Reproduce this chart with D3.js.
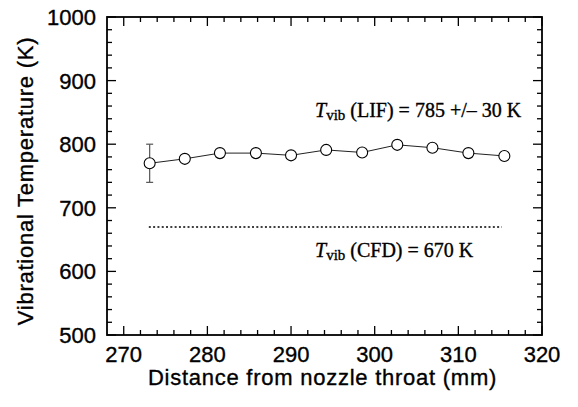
<!DOCTYPE html>
<html>
<head>
<meta charset="utf-8">
<script src="https://cdn.jsdelivr.net/npm/d3@7"></script>
<style>
  body { margin: 0; background: #fff; }
  svg text { fill: #000; stroke: #000; stroke-width: 0.35px; }
</style>
</head>
<body>
<div id="chart"></div>
<script>
// data
const distance = [273.1, 277.3, 281.5, 285.8, 290.0, 294.2, 298.5, 302.7, 306.9, 311.2, 315.5];
const tvib = [770, 777, 786, 786, 782.5, 791, 787, 799, 794.5, 786, 781.5];
const errIndex = 0;
const errSize = 30;
const cfdValue = 670;
const cfdRange = [273, 315.2];
const xTicks = [270, 280, 290, 300, 310, 320];
const yTicks = [500, 600, 700, 800, 900, 1000];

const W = 578, H = 407;
const pLeft = 107, pRight = 542, pTop = 17, pBottom = 335;

const svg = d3.select("#chart")
    .append("svg")
    .attr("width", W)
    .attr("height", H);

const x = d3.scaleLinear().domain([268, 320]).range([pLeft, pRight]);
const y = d3.scaleLinear().domain([500, 1000]).range([pBottom, pTop]);

const xMinor = d3.range(270, 320.1, 2);
const yMinor = d3.range(500, 1000.1, 20);

// ticks, inward on all four sides
function tickLen(v, step) { return Math.abs(v % step) < 1e-6 ? 9 : 5; }

const ticks = svg.append("g").attr("stroke", "#000").attr("stroke-width", 1.3);
xMinor.forEach(v => {
    let L = tickLen(v, 10);
    ticks.append("line").attr("x1", x(v)).attr("x2", x(v)).attr("y1", pBottom).attr("y2", pBottom - L);
    ticks.append("line").attr("x1", x(v)).attr("x2", x(v)).attr("y1", pTop).attr("y2", pTop + L);
});
yMinor.forEach(v => {
    let L = tickLen(v, 100);
    ticks.append("line").attr("y1", y(v)).attr("y2", y(v)).attr("x1", pLeft).attr("x2", pLeft + L);
    ticks.append("line").attr("y1", y(v)).attr("y2", y(v)).attr("x1", pRight).attr("x2", pRight - L);
});

// frame
svg.append("rect")
    .attr("x", pLeft).attr("y", pTop)
    .attr("width", pRight - pLeft).attr("height", pBottom - pTop)
    .attr("fill", "none").attr("stroke", "#000").attr("stroke-width", 1.8);

// tick labels
svg.append("g").selectAll("text")
    .data(xTicks)
    .enter().append("text")
    .attr("x", d => x(d))
    .attr("y", 362)
    .attr("text-anchor", "middle")
    .style("font", "22px 'Liberation Sans', Arial, sans-serif")
    .text(d => d);

svg.append("g").selectAll("text")
    .data(yTicks)
    .enter().append("text")
    .attr("x", 96)
    .attr("y", d => y(d))
    .attr("dy", "0.36em")
    .attr("text-anchor", "end")
    .style("font", "22px 'Liberation Sans', Arial, sans-serif")
    .text(d => d);

// axis titles
svg.append("text")
    .attr("x", (pLeft + pRight) / 2 - 2)
    .attr("y", 385)
    .attr("text-anchor", "middle")
    .style("font", "22px 'Liberation Sans', Arial, sans-serif")
    .style("letter-spacing", "0.75px")
    .text("Distance from nozzle throat (mm)");

svg.append("text")
    .attr("transform", "translate(33,181) rotate(-90)")
    .attr("text-anchor", "middle")
    .style("font", "22px 'Liberation Sans', Arial, sans-serif")
    .style("letter-spacing", "0.75px")
    .text("Vibrational Temperature (K)");

// CFD dotted line
svg.append("line")
    .attr("x1", x(cfdRange[0])).attr("x2", x(cfdRange[1]))
    .attr("y1", y(cfdValue)).attr("y2", y(cfdValue))
    .attr("stroke", "#000").attr("stroke-width", 1.5)
    .attr("stroke-dasharray", "2,2.3");

// error bar
const ex = x(distance[errIndex]);
const eg = svg.append("g").attr("stroke", "#555").attr("stroke-width", 1.2);
eg.append("line").attr("x1", ex).attr("x2", ex)
    .attr("y1", y(tvib[errIndex] + errSize)).attr("y2", y(tvib[errIndex] - errSize));
[errSize, -errSize].forEach(e => {
    eg.append("line").attr("x1", ex - 3.5).attr("x2", ex + 3.5)
        .attr("y1", y(tvib[errIndex] + e)).attr("y2", y(tvib[errIndex] + e));
});

// data line and markers
const pts = distance.map((d, i) => [d, tvib[i]]);
svg.append("path")
    .datum(pts)
    .attr("fill", "none")
    .attr("stroke", "#222")
    .attr("stroke-width", 1)
    .attr("d", d3.line().x(d => x(d[0])).y(d => y(d[1])));

svg.append("g").selectAll("circle")
    .data(pts)
    .enter().append("circle")
    .attr("cx", d => x(d[0]))
    .attr("cy", d => y(d[1]))
    .attr("r", 5.5)
    .attr("fill", "#fff")
    .attr("stroke", "#000")
    .attr("stroke-width", 1.1);

// annotations
function annot(px, py, rest) {
    let t = svg.append("text")
        .attr("x", px).attr("y", py)
        .style("font", "20px 'Liberation Serif', 'Times New Roman', serif");
    t.append("tspan").style("font-style", "italic").text("T");
    t.append("tspan").attr("dy", 3).style("font-size", "15px").text("vib");
    t.append("tspan").attr("dy", -3).text(" " + rest);
}
annot(315, 117, "(LIF) = 785 +/\u2013 30 K");
annot(315, 257, "(CFD) = 670 K");
</script>
</body>
</html>
